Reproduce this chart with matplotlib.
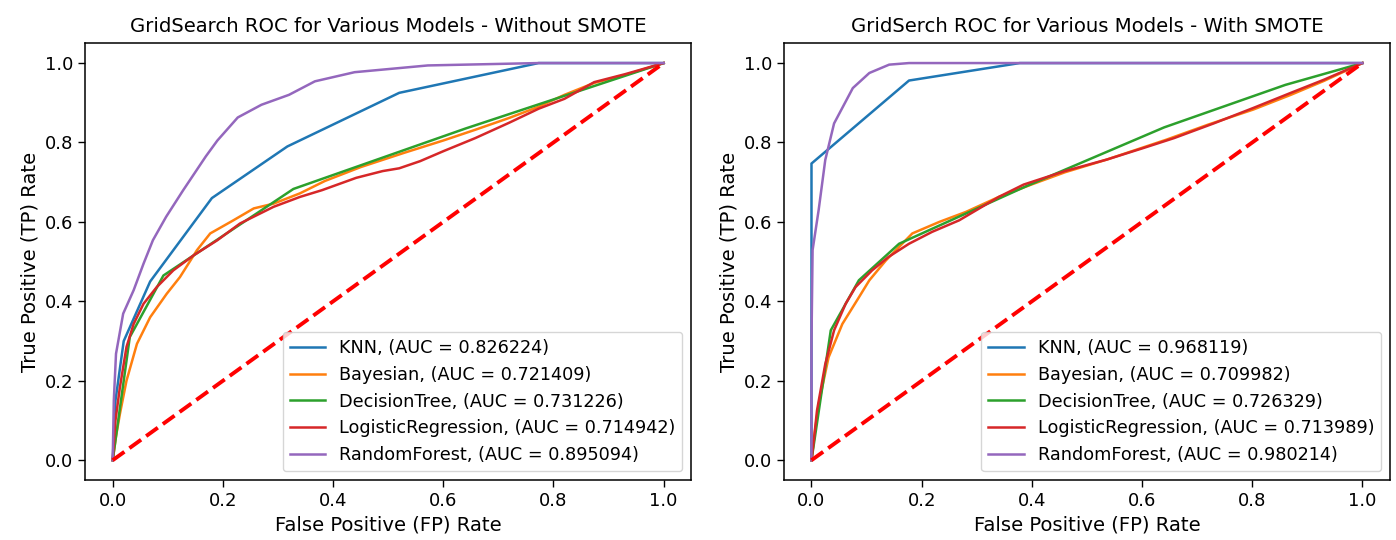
import matplotlib
matplotlib.use("Agg")
import matplotlib.pyplot as plt

# ROC points (fpr, tpr)
left_knn_fpr = [0.0, 0.005, 0.02, 0.068, 0.18, 0.317, 0.52, 0.773, 1.0]
left_knn_tpr = [0.0, 0.15, 0.30, 0.45, 0.66, 0.79, 0.925, 1.0, 1.0]

left_bayes_fpr = [0.0, 0.006, 0.013, 0.025, 0.044, 0.068, 0.098, 0.122, 0.153, 0.177, 0.219, 0.256,
                  0.292, 0.34, 0.385, 0.45, 0.529, 0.6, 0.658, 0.72, 0.773, 0.82, 0.874, 0.93, 1.0]
left_bayes_tpr = [0.0, 0.06, 0.116, 0.2, 0.293, 0.36, 0.419, 0.461, 0.529, 0.571, 0.604, 0.634,
                  0.646, 0.672, 0.703, 0.738, 0.774, 0.805, 0.832, 0.862, 0.89, 0.92, 0.95, 0.97, 1.0]

left_tree_fpr = [0.0, 0.031, 0.092, 0.328, 0.64, 1.0]
left_tree_tpr = [0.0, 0.31, 0.465, 0.683, 0.835, 1.0]

left_logreg_fpr = [0.0, 0.005, 0.013, 0.025, 0.038, 0.056, 0.08, 0.11, 0.147, 0.19, 0.231, 0.292,
                   0.34, 0.38, 0.40, 0.442, 0.49, 0.52, 0.558, 0.6, 0.658, 0.72, 0.773,
                   0.82, 0.874, 0.93, 1.0]
left_logreg_tpr = [0.0, 0.1, 0.183, 0.285, 0.343, 0.394, 0.436, 0.478, 0.516, 0.554, 0.596, 0.638,
                   0.663, 0.68, 0.69, 0.711, 0.728, 0.735, 0.753, 0.778, 0.811, 0.85, 0.885,
                   0.91, 0.952, 0.972, 1.0]

left_rf_fpr = [0.0, 0.002, 0.006, 0.019, 0.038, 0.056, 0.073, 0.097, 0.128, 0.169, 0.19, 0.227,
               0.27, 0.32, 0.367, 0.439, 0.572, 0.773, 1.0]
left_rf_tpr = [0.0, 0.15, 0.268, 0.369, 0.428, 0.495, 0.554, 0.613, 0.68, 0.765, 0.805, 0.863,
               0.895, 0.92, 0.954, 0.977, 0.994, 1.0, 1.0]

right_knn_fpr = [0.0, 0.0, 0.177, 0.378, 1.0]
right_knn_tpr = [0.0, 0.747, 0.956, 1.0, 1.0]

right_bayes_fpr = [0.0, 0.006, 0.013, 0.031, 0.056, 0.086, 0.105, 0.135, 0.183, 0.232, 0.28, 0.34,
                   0.399, 0.46, 0.536, 0.59, 0.644, 0.72, 0.802, 0.87, 0.93, 1.0]
right_bayes_tpr = [0.0, 0.07, 0.141, 0.259, 0.343, 0.41, 0.453, 0.503, 0.571, 0.6, 0.625, 0.663,
                   0.694, 0.725, 0.757, 0.782, 0.807, 0.845, 0.883, 0.92, 0.955, 1.0]

right_tree_fpr = [0.0, 0.035, 0.086, 0.159, 0.39, 0.64, 0.86, 1.0]
right_tree_tpr = [0.0, 0.327, 0.453, 0.545, 0.69, 0.838, 0.945, 1.0]

right_logreg_fpr = [0.0, 0.005, 0.01, 0.025, 0.041, 0.062, 0.08, 0.11, 0.14, 0.177, 0.219, 0.268,
                    0.34, 0.385, 0.46, 0.536, 0.6, 0.658, 0.73, 0.802, 0.87, 0.93, 1.0]
right_logreg_tpr = [0.0, 0.06, 0.125, 0.242, 0.327, 0.394, 0.436, 0.478, 0.512, 0.545, 0.575, 0.604,
                    0.663, 0.694, 0.728, 0.757, 0.785, 0.811, 0.848, 0.887, 0.925, 0.958, 1.0]

right_rf_fpr = [0.0, 0.0, 0.002, 0.013, 0.025, 0.041, 0.075, 0.105, 0.141, 0.177, 0.37, 1.0]
right_rf_tpr = [0.0, 0.3, 0.529, 0.63, 0.756, 0.848, 0.937, 0.975, 0.996, 1.0, 1.0, 1.0]

model_names = ["KNN", "Bayesian", "DecisionTree", "LogisticRegression", "RandomForest"]
left_auc = [0.826224, 0.721409, 0.731226, 0.714942, 0.895094]
right_auc = [0.968119, 0.709982, 0.726329, 0.713989, 0.980214]

titles = ["GridSearch ROC for Various Models - Without SMOTE",
          "GridSerch ROC for Various Models - With SMOTE"]

left_curves = [(left_knn_fpr, left_knn_tpr), (left_bayes_fpr, left_bayes_tpr),
               (left_tree_fpr, left_tree_tpr), (left_logreg_fpr, left_logreg_tpr),
               (left_rf_fpr, left_rf_tpr)]
right_curves = [(right_knn_fpr, right_knn_tpr), (right_bayes_fpr, right_bayes_tpr),
                (right_tree_fpr, right_tree_tpr), (right_logreg_fpr, right_logreg_tpr),
                (right_rf_fpr, right_rf_tpr)]

fig, axes = plt.subplots(1, 2, figsize=(13.96, 5.4), dpi=100)
fig.subplots_adjust(left=0.061, right=0.9957, bottom=0.111, top=0.920, wspace=0.153)

for ax, curves, aucs, title in zip(axes, [left_curves, right_curves], [left_auc, right_auc], titles):
    for (fpr, tpr), name, auc in zip(curves, model_names, aucs):
        ax.plot(fpr, tpr, linewidth=1.8, label="%s, (AUC = %f)" % (name, auc))
    ax.plot([0, 1], [0, 1], "r--", linewidth=2.8)
    ax.set_title(title, fontsize=14.1, pad=8)
    ax.set_xlabel("False Positive (FP) Rate", fontsize=14.1)
    ax.set_ylabel("True Positive (TP) Rate", fontsize=14.1)
    ax.tick_params(labelsize=13, length=5, width=1)
    for spine in ax.spines.values():
        spine.set_linewidth(1.1)
    ax.legend(loc="lower right", fontsize=12.7)

fig.savefig("out.png", dpi=100)
